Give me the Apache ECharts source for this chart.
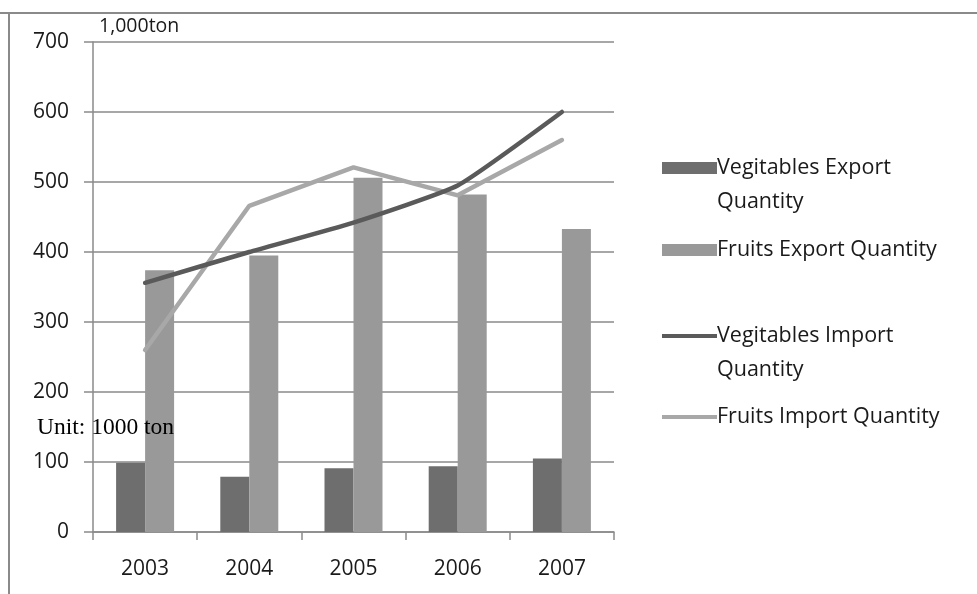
<!DOCTYPE html>
<html>
<head>
<meta charset="utf-8">
<script src="https://cdn.jsdelivr.net/npm/echarts@6/dist/echarts.min.js"></script>
<style>
  html, body { margin: 0; padding: 0; background: #fff; }
  #chart { width: 977px; height: 594px; }
</style>
</head>
<body>
<div id="chart"></div>
<script>
// Export / import quantities of vegetables and fruits, in 1,000 ton
const years = ['2003', '2004', '2005', '2006', '2007'];
const vegExport = [99, 79, 91, 94, 105];
const fruitExport = [374, 395, 506, 482, 433];
const vegImport = [356, 400, 442, 495, 600];
const fruitImport = [260, 466, 521, 481, 560];
const yTicks = { min: 0, max: 700, interval: 100 };

const seriesNames = [
  'Vegitables Export Quantity',
  'Fruits Export Quantity',
  'Vegitables Import Quantity',
  'Fruits Import Quantity'
];
// first line shown next to the legend swatch; long names wrap onto a second line
const legendFirstLines = [
  'Vegitables Export',
  'Fruits Export Quantity',
  'Vegitables Import',
  'Fruits Import Quantity'
];
const legendSecondLines = ['Quantity', '', 'Quantity', ''];

const C_DARK_BAR = '#6e6e6e';
const C_LIGHT_BAR = '#999999';
const C_DARK_LINE = '#5a5a5a';
const C_LIGHT_LINE = '#a8a8a8';
const AXIS = '#8a8a8a';
const FONT = '"Open Sans", "Noto Sans", sans-serif';
const LEGEND_FONT_SIZE = 21.5;

const chart = echarts.init(document.getElementById('chart'), null, { renderer: 'canvas' });

const legendTops = [146, 228, 314, 395];
const legendIconHeights = [12, 12, 4, 4];

function legendFor(i) {
  return {
    left: 657,
    top: legendTops[i],
    orient: 'vertical',
    data: [{ name: seriesNames[i], icon: 'rect' }],
    itemWidth: 55,
    itemHeight: legendIconHeights[i],
    itemGap: 0,
    selectedMode: false,
    formatter: () => legendFirstLines[i],
    textStyle: {
      fontFamily: FONT,
      fontSize: LEGEND_FONT_SIZE,
      color: '#1a1a1a',
      lineHeight: 34,
      padding: [0, 0, 0, -5]
    }
  };
}

const wrapTexts = legendSecondLines
  .map((t, i) => t ? {
    type: 'text', left: 717, top: legendTops[i] + 45,
    style: { text: t, font: LEGEND_FONT_SIZE + 'px ' + FONT, fill: '#1a1a1a' },
    silent: true
  } : null)
  .filter(Boolean);

const option = {
  animation: false,
  backgroundColor: '#fff',
  grid: { left: 93, right: 363, top: 42, bottom: 62, containLabel: false },
  legend: [0, 1, 2, 3].map(legendFor),
  xAxis: {
    type: 'category',
    data: years,
    boundaryGap: true,
    axisLine: { show: true, lineStyle: { color: AXIS, width: 1.5 } },
    axisTick: { show: true, length: 8, alignWithLabel: false, lineStyle: { color: AXIS, width: 1.5 } },
    axisLabel: { fontFamily: FONT, fontSize: 21, color: '#1a1a1a', margin: 27 },
    splitLine: { show: false }
  },
  yAxis: {
    type: 'value',
    min: yTicks.min,
    max: yTicks.max,
    interval: yTicks.interval,
    axisLine: { show: true, lineStyle: { color: AXIS, width: 1.5 } },
    axisTick: { show: true, length: 9, lineStyle: { color: AXIS, width: 1.5 } },
    axisLabel: { fontFamily: FONT, fontSize: 21, color: '#1a1a1a', margin: 24 },
    splitLine: { show: true, lineStyle: { color: AXIS, width: 1.5 } }
  },
  series: [
    {
      name: seriesNames[0], type: 'bar', data: vegExport,
      barWidth: 29, barGap: '0%',
      itemStyle: { color: C_DARK_BAR }, z: 2
    },
    {
      name: seriesNames[1], type: 'bar', data: fruitExport,
      barWidth: 29, barGap: '0%',
      itemStyle: { color: C_LIGHT_BAR }, z: 2
    },
    {
      name: seriesNames[2], type: 'line', data: vegImport,
      symbol: 'none', smooth: 0.15,
      lineStyle: { color: C_DARK_LINE, width: 4.5, cap: 'round' },
      itemStyle: { color: C_DARK_LINE }, z: 4
    },
    {
      name: seriesNames[3], type: 'line', data: fruitImport,
      symbol: 'none',
      lineStyle: { color: C_LIGHT_LINE, width: 4.5, cap: 'round' },
      itemStyle: { color: C_LIGHT_LINE }, z: 3
    }
  ],
  graphic: [
    { type: 'line', shape: { x1: 0, y1: 13, x2: 977, y2: 13 }, style: { stroke: '#8a8a8a', lineWidth: 2 }, silent: true },
    { type: 'line', shape: { x1: 9, y1: 13, x2: 9, y2: 594 }, style: { stroke: '#8a8a8a', lineWidth: 2 }, silent: true },
    { type: 'text', left: 99, top: 16, style: { text: '1,000ton', font: '19.5px ' + FONT, fill: '#1a1a1a' }, silent: true },
    { type: 'text', left: 37, top: 416, z: 10, style: { text: 'Unit: 1000 ton', font: '23.5px "Liberation Serif", "Times New Roman", serif', fill: '#000' }, silent: true }
  ].concat(wrapTexts)
};

chart.setOption(option);
</script>
</body>
</html>
